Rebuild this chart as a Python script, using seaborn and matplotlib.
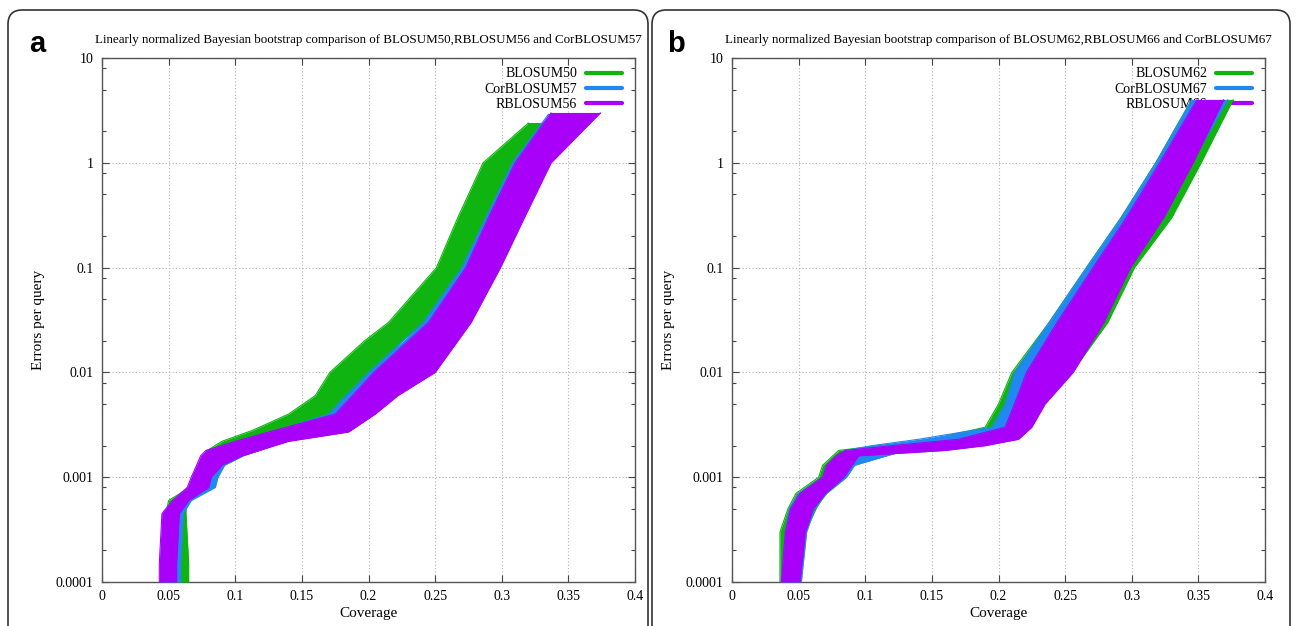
import numpy as np
import pandas as pd
import matplotlib
matplotlib.use('Agg')
import matplotlib.pyplot as plt
import seaborn as sns
from matplotlib.lines import Line2D
from matplotlib.patches import FancyBboxPatch
from matplotlib.ticker import FixedLocator, NullFormatter

'''
Bootstrap bundles read off the figure: for each matrix an error level
(errors per query) and the left / right coverage edge of the bundle there
'''

# panel a
a_green_y = [1e-4, 1.5e-4, 4.5e-4, 6e-4, 8e-4, 1e-3, 1.3e-3, 1.8e-3, 2.2e-3,
             2.8e-3, 4e-3, 6e-3, 1e-2, 2e-2, 3e-2, 1e-1, 3e-1, 1, 2.4]
a_green_lo = [0.047, 0.047, 0.048, 0.050, 0.066, 0.070, 0.072, 0.079, 0.090,
              0.113, 0.140, 0.160, 0.171, 0.197, 0.215, 0.251, 0.267, 0.286,
              0.320]
a_green_hi = [0.065, 0.065, 0.063, 0.063, 0.082, 0.087, 0.089, 0.098, 0.118,
              0.150, 0.180, 0.195, 0.205, 0.225, 0.243, 0.273, 0.292, 0.312,
              0.337]

a_blue_y = [1e-4, 1.5e-4, 4.5e-4, 6e-4, 8e-4, 1e-3, 1.3e-3, 1.6e-3, 1.8e-3,
            2.2e-3, 2.7e-3, 4e-3, 6e-3, 1e-2, 3e-2, 1e-1, 3e-1, 1, 2.9]
a_blue_lo = [0.044, 0.044, 0.046, 0.054, 0.065, 0.068, 0.072, 0.076, 0.080,
             0.102, 0.128, 0.170, 0.183, 0.200, 0.241, 0.270, 0.288, 0.308,
             0.335]
a_blue_hi = [0.059, 0.059, 0.061, 0.067, 0.085, 0.087, 0.092, 0.106, 0.118,
             0.138, 0.180, 0.200, 0.215, 0.244, 0.272, 0.295, 0.313, 0.333,
             0.368]

a_purple_y = [1e-4, 1.5e-4, 4.5e-4, 6e-4, 8e-4, 1e-3, 1.3e-3, 1.6e-3, 1.8e-3,
              2.2e-3, 2.7e-3, 4e-3, 6e-3, 1e-2, 3e-2, 1e-1, 3e-1, 1, 3]
a_purple_lo = [0.043, 0.043, 0.045, 0.053, 0.064, 0.067, 0.071, 0.074, 0.078,
               0.100, 0.125, 0.175, 0.188, 0.204, 0.245, 0.273, 0.290, 0.310,
               0.337]
a_purple_hi = [0.056, 0.056, 0.058, 0.065, 0.080, 0.082, 0.090, 0.105, 0.118,
               0.140, 0.185, 0.205, 0.222, 0.250, 0.277, 0.299, 0.317, 0.337,
               0.374]

# panel b
b_green_y = [1e-4, 3e-4, 5e-4, 7e-4, 1e-3, 1.3e-3, 1.8e-3, 2.0e-3, 2.3e-3,
             3e-3, 5e-3, 1e-2, 3e-2, 1e-1, 3e-1, 1, 4]
b_green_lo = [0.036, 0.036, 0.042, 0.048, 0.065, 0.068, 0.080, 0.110, 0.150,
              0.190, 0.200, 0.210, 0.238, 0.266, 0.292, 0.318, 0.345]
b_green_hi = [0.050, 0.055, 0.063, 0.070, 0.082, 0.088, 0.125, 0.170, 0.200,
              0.220, 0.228, 0.255, 0.282, 0.302, 0.330, 0.352, 0.376]

b_blue_y = [1e-4, 3e-4, 5e-4, 7e-4, 1e-3, 1.3e-3, 1.8e-3, 2.0e-3, 2.3e-3,
            3e-3, 5e-3, 1e-2, 3e-2, 1e-1, 3e-1, 1, 4]
b_blue_lo = [0.037, 0.040, 0.043, 0.050, 0.068, 0.071, 0.085, 0.105, 0.140,
             0.195, 0.205, 0.212, 0.238, 0.266, 0.292, 0.318, 0.345]
b_blue_hi = [0.052, 0.056, 0.062, 0.071, 0.086, 0.092, 0.130, 0.160, 0.200,
             0.215, 0.228, 0.250, 0.276, 0.297, 0.322, 0.345, 0.372]

b_purple_y = [1e-4, 3e-4, 5e-4, 7e-4, 1e-3, 1.3e-3, 1.6e-3, 1.8e-3, 2.0e-3,
              2.3e-3, 3e-3, 5e-3, 1e-2, 3e-2, 1e-1, 3e-1, 1, 4]
b_purple_lo = [0.037, 0.040, 0.044, 0.051, 0.068, 0.071, 0.078, 0.085, 0.120,
               0.170, 0.205, 0.212, 0.221, 0.244, 0.271, 0.296, 0.321, 0.349]
b_purple_hi = [0.051, 0.055, 0.061, 0.070, 0.084, 0.090, 0.095, 0.160, 0.190,
               0.215, 0.225, 0.235, 0.256, 0.279, 0.299, 0.324, 0.346, 0.369]

a_labels = ['BLOSUM50', 'CorBLOSUM57', 'RBLOSUM56']
b_labels = ['BLOSUM62', 'CorBLOSUM67', 'RBLOSUM66']
a_title = ('Linearly normalized Bayesian bootstrap comparison of '
           'BLOSUM50,RBLOSUM56 and CorBLOSUM57')
b_title = ('Linearly normalized Bayesian bootstrap comparison of '
           'BLOSUM62,RBLOSUM66 and CorBLOSUM67')

x_ticks = [0, 0.05, 0.1, 0.15, 0.2, 0.25, 0.3, 0.35, 0.4]
x_tick_labels = ['0', '0.05', '0.1', '0.15', '0.2', '0.25', '0.3', '0.35', '0.4']
y_ticks = [1e-4, 1e-3, 1e-2, 1e-1, 1, 10]
y_tick_labels = ['0.0001', '0.001', '0.01', '0.1', '1', '10']

colors = ['#10b410', '#2088f0', '#a800f8']

sns.set_theme(style='ticks')
plt.rcParams['font.family'] = ['Liberation Serif', 'DejaVu Serif']

fig = plt.figure(figsize=(12.96, 6.26), dpi=100)
W, H = 1296.0, 626.0


def draw_bundle(ax, ys, lo, hi, color):
    # заливка между левым и правым краем пучка бутстрэп-кривых
    ax.fill_betweenx(ys, lo, hi, color=color, lw=0, zorder=3)
    df = pd.DataFrame({'lo': lo, 'hi': hi, 'y': ys})
    sns.lineplot(data=df, x='lo', y='y', ax=ax, sort=False, estimator=None,
                 color=color, lw=0.8, zorder=3)
    sns.lineplot(data=df, x='hi', y='y', ax=ax, sort=False, estimator=None,
                 color=color, lw=0.8, zorder=3)
    # горизонтальный хвост в конце кривых
    ax.plot([lo[-1], hi[-1]], [ys[-1], ys[-1]], color=color, lw=0.8, zorder=3)


def setup_axes(ax, title, labels):
    ax.set_yscale('log')
    ax.set_xlim(0, 0.4)
    ax.set_ylim(1e-4, 10)
    ax.set_xticks(x_ticks)
    ax.set_xticklabels(x_tick_labels)
    ax.set_yticks(y_ticks)
    ax.set_yticklabels(y_tick_labels)
    minors = [m * 10.0 ** e for e in range(-4, 1) for m in (2, 5, 8)]
    ax.yaxis.set_minor_locator(FixedLocator(minors))
    ax.yaxis.set_minor_formatter(NullFormatter())
    ax.tick_params(which='both', direction='in', top=True, right=True,
                   colors='#444444', labelcolor='black', labelsize=10)
    ax.tick_params(which='major', length=5, width=0.8, pad=6)
    ax.tick_params(which='minor', length=3, width=0.8)
    ax.grid(True, which='major', linestyle=(0, (1, 2)), color='#b0b0b0',
            lw=0.8, zorder=0)
    for sp in ax.spines.values():
        sp.set_color('#555555')
        sp.set_linewidth(1.0)
    ax.set_title(title, fontsize=9.4, pad=11, color='black')
    ax.set_xlabel('Coverage', fontsize=11, labelpad=3, color='black')
    ax.set_ylabel('Errors per query', fontsize=11, labelpad=8, color='black')
    handles = [Line2D([0], [0], color=c, lw=3) for c in colors]
    leg = ax.legend(handles, labels, loc='upper right',
                    bbox_to_anchor=(0.975, 0.982), frameon=False,
                    markerfirst=False, handlelength=2.6, handletextpad=0.6,
                    labelspacing=0.15, borderaxespad=0, borderpad=0,
                    fontsize=10)
    for t in leg.get_texts():
        t.set_color('black')
    leg.set_zorder(2)


ax_a = fig.add_axes([102 / W, 44 / H, 533 / W, 524 / H])
ax_b = fig.add_axes([732 / W, 44 / H, 533 / W, 524 / H])

setup_axes(ax_a, a_title, a_labels)
draw_bundle(ax_a, a_green_y, a_green_lo, a_green_hi, colors[0])
draw_bundle(ax_a, a_blue_y, a_blue_lo, a_blue_hi, colors[1])
draw_bundle(ax_a, a_purple_y, a_purple_lo, a_purple_hi, colors[2])

setup_axes(ax_b, b_title, b_labels)
draw_bundle(ax_b, b_green_y, b_green_lo, b_green_hi, colors[0])
draw_bundle(ax_b, b_blue_y, b_blue_lo, b_blue_hi, colors[1])
draw_bundle(ax_b, b_purple_y, b_purple_lo, b_purple_hi, colors[2])

for ax in (ax_a, ax_b):
    ax.set_xlim(0, 0.4)
    ax.set_ylim(1e-4, 10)

# рамки панелей со скруглёнными углами
for x0, x1 in ((8, 648), (652, 1290)):
    box = FancyBboxPatch((x0 / W, -40 / H), (x1 - x0) / W, (626 - 10 + 40) / H,
                         boxstyle='round,pad=0,rounding_size=0.011',
                         mutation_aspect=W / H, transform=fig.transFigure,
                         fill=False, ec='#333333', lw=1.2)
    fig.patches.append(box)

fig.text(29 / W, 1 - 52 / H, 'a', fontsize=21, fontweight='bold',
         family='Liberation Sans', va='baseline', color='black')
fig.text(667 / W, 1 - 52 / H, 'b', fontsize=21, fontweight='bold',
         family='Liberation Sans', va='baseline', color='black')

fig.savefig('out.png', dpi=100)
